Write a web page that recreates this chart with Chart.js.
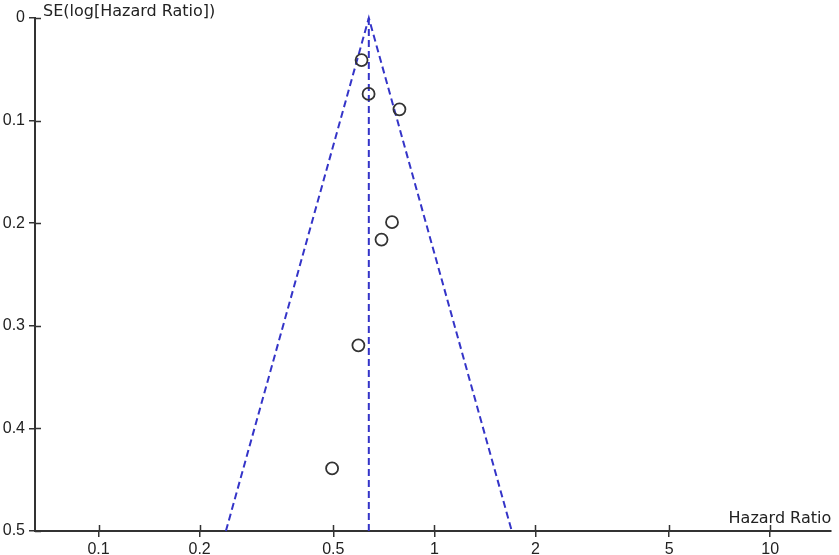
<!DOCTYPE html>
<html>
<head>
<meta charset="utf-8">
<script src="https://cdn.jsdelivr.net/npm/chart.js@4/dist/chart.umd.min.js"></script>
<style>
  body { margin: 0; background: #fff; }
  #wrap { width: 839px; height: 555px; }
</style>
</head>
<body>
<div id="wrap"><canvas id="funnel" width="839" height="555"></canvas></div>
<script>
// study estimates
var hazardRatio = [0.607, 0.637, 0.787, 0.748, 0.696, 0.594, 0.496];
var seLogHR = [0.041, 0.074, 0.089, 0.199, 0.216, 0.319, 0.439];

// pooled estimate and funnel limits at SE = 0.5
var pooledHR = 0.638;
var funnelLow = 0.2395;
var funnelHigh = 1.70;
var seMax = 0.5;

var xTickValues = [0.1, 0.2, 0.5, 1, 2, 5, 10];
var xMin = 0.0647, xMax = 15.19;

var axisColor = "#333333";
var funnelColor = "#3434c8";
var tickFont = { family: "Liberation Sans", size: 16 };
var titleFont = "16px 'DejaVu Sans'";

var points = hazardRatio.map(function (hr, i) {
    return { x: hr, y: seLogHR[i] };
});

// inner half of the tick marks and the two axis titles
var axisExtras = {
    id: "axisExtras",
    afterDraw: function (chart) {
        var ctx = chart.ctx;
        var area = chart.chartArea;
        var xs = chart.scales.x, ys = chart.scales.y;
        ctx.save();
        ctx.strokeStyle = axisColor;
        ctx.lineWidth = 1.5;
        ctx.beginPath();
        xs.ticks.forEach(function (t) {
            var px = Math.round(xs.getPixelForValue(t.value)) + 0.5;
            ctx.moveTo(px, area.bottom);
            ctx.lineTo(px, area.bottom - 6);
        });
        ys.ticks.forEach(function (t) {
            var py = Math.round(ys.getPixelForValue(t.value)) + 0.5;
            ctx.moveTo(area.left, py);
            ctx.lineTo(area.left + 6, py);
        });
        ctx.stroke();
        ctx.fillStyle = "#222";
        ctx.font = titleFont;
        ctx.textBaseline = "alphabetic";
        ctx.textAlign = "left";
        ctx.fillText("SE(log[Hazard Ratio])", area.left + 8, 16);
        ctx.textAlign = "right";
        ctx.fillText("Hazard Ratio", area.right, area.bottom - 8);
        ctx.restore();
    }
};

var ctx = document.getElementById("funnel").getContext("2d");
new Chart(ctx, {
    type: "scatter",
    data: {
        datasets: [
            {
                data: points,
                pointStyle: "circle",
                pointRadius: 6,
                pointBorderWidth: 1.8,
                pointBorderColor: "#333",
                pointBackgroundColor: "rgba(255,255,255,0)",
                showLine: false,
            },
            {
                data: [
                    { x: funnelLow, y: seMax },
                    { x: pooledHR, y: 0 },
                    { x: funnelHigh, y: seMax },
                ],
                showLine: true,
                borderColor: funnelColor,
                borderWidth: 2,
                borderDash: [7, 4],
                pointRadius: 0,
                clip: false,
            },
            {
                data: [
                    { x: pooledHR, y: 0 },
                    { x: pooledHR, y: seMax },
                ],
                showLine: true,
                borderColor: funnelColor,
                borderWidth: 2,
                borderDash: [7, 4],
                pointRadius: 0,
                clip: false,
            },
        ],
    },
    options: {
        responsive: false,
        animation: false,
        layout: { padding: { left: 0, top: 18, right: 2, bottom: 0 } },
        plugins: {
            legend: { display: false },
            tooltip: { enabled: false },
        },
        scales: {
            x: {
                type: "logarithmic",
                min: xMin,
                max: xMax,
                afterBuildTicks: function (scale) {
                    scale.ticks = xTickValues.map(function (v) {
                        return { value: v };
                    });
                },
                afterFit: function (scale) {
                    scale.height = 24;
                },
                grid: {
                    drawOnChartArea: false,
                    tickLength: 6,
                    color: axisColor,
                    lineWidth: 1.5,
                },
                border: { color: axisColor, width: 2 },
                ticks: {
                    font: tickFont,
                    color: "#222",
                    padding: 3,
                    autoSkip: false,
                    maxRotation: 0,
                    callback: function (v) {
                        return String(v);
                    },
                },
            },
            y: {
                type: "linear",
                reverse: true,
                min: 0,
                max: seMax,
                afterFit: function (scale) {
                    scale.width = 35;
                },
                grid: {
                    drawOnChartArea: false,
                    tickLength: 6,
                    color: axisColor,
                    lineWidth: 1.5,
                },
                border: { color: axisColor, width: 2 },
                ticks: {
                    stepSize: 0.1,
                    font: tickFont,
                    color: "#222",
                    padding: 4,
                    callback: function (v) {
                        return String(Math.round(v * 10) / 10);
                    },
                },
            },
        },
    },
    plugins: [axisExtras],
});
</script>
</body>
</html>
